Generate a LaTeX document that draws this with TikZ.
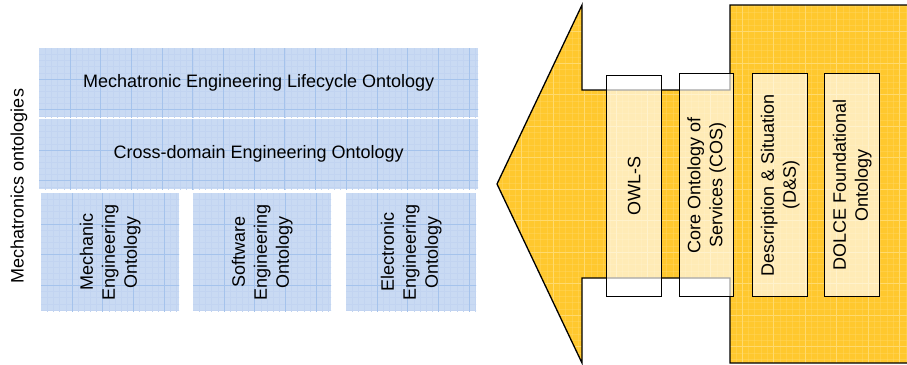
\documentclass[tikz,border=0pt]{standalone}
\usepackage{fontspec}
\setmainfont{Liberation Sans}
\definecolor{blueface}{RGB}{201,218,243}
\definecolor{blueline}{RGB}{165,195,236}
\definecolor{bluefine}{RGB}{194,212,241}
\definecolor{orangeface}{RGB}{255,200,46}
\definecolor{orangeline}{RGB}{255,218,110}

\begin{document}
\begin{tikzpicture}[x=1pt, y=-1pt,
  every node/.style={font=\fontsize{18}{22}\selectfont, inner sep=0pt},
  bluebox/.style={anchor=north west, fill=blueface, path picture={
      \foreach \k in {1,...,75} {
        \draw[bluefine, line width=0.4pt] ([xshift=\k*6.14pt]path picture bounding box.north west) -- ++(0pt,-200pt);
        \draw[bluefine, line width=0.4pt] ([yshift=-\k*6.14pt]path picture bounding box.north west) -- ++(500pt,0pt);
      }
      \foreach \k in {1,...,15} {
        \draw[blueline, line width=0.8pt] ([xshift=\k*30.7pt]path picture bounding box.north west) -- ++(0pt,-200pt);
        \draw[blueline, line width=0.8pt] ([yshift=-\k*30.7pt]path picture bounding box.north west) -- ++(500pt,0pt);
      }}},
  layerbox/.style={anchor=north west, draw=black, line width=1.3pt, fill=white, fill opacity=0.65, minimum width=55pt, minimum height=223pt},
  arrowline/.style={line width=1.3pt, line join=miter}
]
\useasboundingbox (0,0) rectangle (907,364);

% mechatronics ontologies
\node[bluebox, minimum width=439pt, minimum height=69pt] (lifecycle) at (39,48) {Mechatronic Engineering Lifecycle Ontology};
\node[bluebox, minimum width=439pt, minimum height=70pt] (crossdomain) at (39,119) {Cross-domain Engineering Ontology};
\node[bluebox, minimum width=138pt, minimum height=118pt] (mechanic) at (41,193) {};
\node[bluebox, minimum width=138pt, minimum height=118pt] (software) at (193,193) {};
\node[bluebox, minimum width=130pt, minimum height=118pt] (electronic) at (346,193) {};
\node[rotate=90, align=center] (mechanictext) at (mechanic.center) {Mechanic\\Engineering\\Ontology};
\node[rotate=90, align=center] (softwaretext) at (software.center) {Software\\Engineering\\Ontology};
\node[rotate=90, align=center] (electronictext) at (electronic.center) {Electronic\\Engineering\\Ontology};
\node[rotate=90] (mechalabel) at (19,186) {Mechatronics ontologies};

% arrow
\begin{scope}
\clip (497,184) -- (582,5) -- (582,90) -- (730,90) -- (730,5) -- (920,5) -- (920,363) -- (730,363) -- (730,278) -- (582,278) -- (582,363) -- cycle;
\fill[orangeface] (480,0) rectangle (920,370);
\foreach \k in {0,...,75} {
  \draw[orangeline, line width=0.4pt, opacity=0.35] (490+\k*6.3,0) -- (490+\k*6.3,370);
  \draw[orangeline, line width=0.4pt, opacity=0.35] (480,\k*6.3) -- (920,\k*6.3);
}
\foreach \k in {0,...,14} {
  \draw[orangeline, line width=0.8pt] (490+\k*31.5,0) -- (490+\k*31.5,370);
  \draw[orangeline, line width=0.8pt] (480,\k*31.5) -- (920,\k*31.5);
}
\end{scope}
\draw[arrowline] (497,184) -- (582,5) -- (582,90) -- (730,90) -- (730,5) -- (920,5) -- (920,363) -- (730,363) -- (730,278) -- (582,278) -- (582,363) -- cycle;

% foundational ontologies
\node[layerbox, minimum height=221pt] (owls) at (606,75) {};
\node[layerbox, minimum width=54pt] (cos) at (679,73) {};
\node[layerbox] (dns) at (752,73) {};
\node[layerbox] (dolce) at (824,73) {};
\node[rotate=90, align=center] (owlstext) at (owls.center) {OWL-S};
\node[rotate=90, align=center] (costext) at (cos.center) {Core Ontology of\\Services (COS)};
\node[rotate=90, align=center] (dnstext) at (dns.center) {Description \& Situation\\(D\&S)};
\node[rotate=90, align=center] (dolcetext) at (dolce.center) {DOLCE Foundational\\Ontology};
\end{tikzpicture}
\end{document}
